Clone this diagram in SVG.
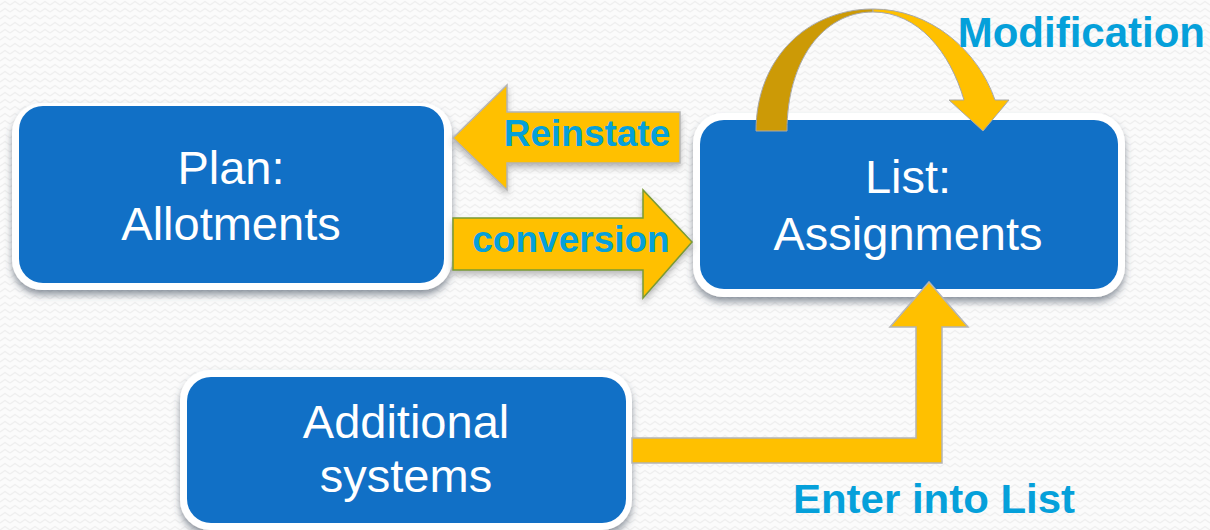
<svg xmlns="http://www.w3.org/2000/svg" width="1210" height="530" viewBox="0 0 1210 530">
<defs>
<pattern id="zig" width="10" height="7" patternUnits="userSpaceOnUse">
<rect width="10" height="7" fill="#fbfbfb"/>
<path d="M0,5 L5,1.5 L10,5" fill="none" stroke="#efefef" stroke-width="1.4"/>
</pattern>
<filter id="sh" x="-10%" y="-10%" width="120%" height="130%">
<feDropShadow dx="0" dy="5" stdDeviation="3.5" flood-color="#3a4a5a" flood-opacity="0.55"/>
</filter>
<filter id="ash" x="-10%" y="-10%" width="120%" height="130%">
<feDropShadow dx="0" dy="4" stdDeviation="3" flood-color="#555" flood-opacity="0.4"/>
</filter>
<style>
.outer{fill:#ffffff;}
.inner{fill:#1170C6;}
.nt{font-family:"Liberation Sans",Arial,sans-serif;font-size:47px;fill:#ffffff;text-anchor:middle;}
.lbl{font-family:"Liberation Sans",Arial,sans-serif;font-weight:bold;fill:#05A0DA;}
.gold{fill:#FFC000;}
</style>
</defs>
<rect width="1210" height="530" fill="url(#zig)"/>

<g id="plan">
<rect class="outer" x="12" y="103" width="440" height="187" rx="30" filter="url(#sh)"/>
<rect class="inner" x="19" y="106" width="425" height="177" rx="24"/>
<text class="nt" x="231" y="184">Plan:</text>
<text class="nt" x="231" y="240">Allotments</text>
</g>

<g id="list">
<rect class="outer" x="693" y="113" width="432" height="184" rx="30" filter="url(#sh)"/>
<rect class="inner" x="700" y="120" width="418" height="169" rx="24"/>
<text class="nt" x="908" y="193">List:</text>
<text class="nt" x="908" y="250">Assignments</text>
</g>

<g id="additional">
<rect class="outer" x="180" y="370" width="452" height="160" rx="30" filter="url(#sh)"/>
<rect class="inner" x="187" y="377" width="439" height="146" rx="24"/>
<text class="nt" x="406" y="438">Additional</text>
<text class="nt" x="406" y="492">systems</text>
</g>

<g id="connectors">
<g id="reinstate">
<path class="gold" d="M680,112 L507,112 L507,85 L453,138 L507,190 L507,163 L680,163 Z" stroke="#b4b4b4" stroke-width="1.5" filter="url(#ash)"/>
<text class="lbl" x="587" y="146" font-size="37" text-anchor="middle">Reinstate</text>
</g>
<g id="conversion">
<path class="gold" d="M453,218 L643,218 L643,190 L692,242 L643,298 L643,270 L453,270 Z" stroke="#7a9a36" stroke-width="1.5" filter="url(#ash)"/>
<text class="lbl" x="571" y="252" font-size="37" text-anchor="middle">conversion</text>
</g>
<g id="modification">
<path d="M756,131 C756,58 808,9 873,9 L873,12 C822,12 787,62 787,131 Z" fill="#CC9A06" stroke="#a8a8a8" stroke-width="1"/>
<path d="M873,9 C930,9 978,50 995,100 L1009,100 L983,131 L949,100 L964,100 C950,52 918,12 873,12 Z" fill="#FFC000" stroke="#a8a8a8" stroke-width="1"/>
<text class="lbl" x="1205" y="47" font-size="42" text-anchor="end">Modification</text>
</g>
<g id="enter">
<path class="gold" d="M632,438 L916,438 L916,327 L890,327 L929,282 L968,327 L942,327 L942,463 L632,463 Z" stroke="#b4b4b4" stroke-width="1.5"/>
<text class="lbl" x="793" y="513" font-size="40" textLength="282" lengthAdjust="spacingAndGlyphs">Enter into List</text>
</g>
</g>
</svg>
